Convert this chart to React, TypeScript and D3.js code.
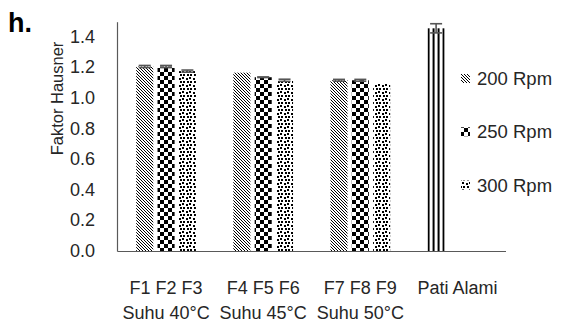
import React from "react";
import * as d3 from "d3";

// Category labels (two lines) and series names
const categoryTop = ["F1 F2 F3", "F4 F5 F6", "F7 F8 F9", "Pati Alami"];
const categoryBottom = ["Suhu 40°C", "Suhu 45°C", "Suhu 50°C", ""];
const seriesNames = ["200 Rpm", "250 Rpm", "300 Rpm"];

// Hausner ratio per category for each stirring speed (null = no bar)
const rpm200 = [1.21, 1.17, 1.12, 1.46];
const rpm250 = [1.21, 1.14, 1.12, null];
const rpm300 = [1.18, 1.12, 1.1, null];

// Standard deviations
const err200 = [0.007, 0.0, 0.006, 0.03];
const err250 = [0.007, 0.002, 0.006, null];
const err300 = [0.007, 0.007, 0.0, null];

const yTicks = [0, 0.2, 0.4, 0.6, 0.8, 1.0, 1.2, 1.4];

const W = 570;
const H = 322;
const FONT = "'Liberation Sans', Arial, sans-serif";

export default function App() {
  const y = d3.scaleLinear().domain([0, 1.5]).range([251.5, 22.2]);
  const x0 = d3
    .scaleBand<string>()
    .domain(categoryTop)
    .range([117.5, 506])
    .paddingInner(0.385)
    .paddingOuter(0.1925);
  const x1 = d3
    .scaleBand<string>()
    .domain(seriesNames)
    .range([0, x0.bandwidth()])
    .paddingInner(0.2);

  const values = [rpm200, rpm250, rpm300];
  const errors = [err200, err250, err300];
  const fills = ["url(#diag)", "url(#checker)", "url(#confetti)"];

  const bars: any[] = [];
  categoryTop.forEach((cat, ci) => {
    seriesNames.forEach((s, si) => {
      const v = values[si][ci];
      if (v == null) return;
      const isNative = cat === "Pati Alami";
      bars.push({
        key: `${ci}-${si}`,
        x: (x0(cat) as number) + (x1(s) as number),
        w: x1.bandwidth(),
        v,
        e: errors[si][ci] ?? 0,
        fill: isNative ? "url(#vstripe)" : fills[si],
      });
    });
  });

  const baseY = y(0);
  const axisColor = "#595959";
  const textColor = "#262626";

  return (
    <svg
      width={W}
      height={H}
      style={{ position: "absolute", left: 0, top: 0, background: "#fff" }}
      fontFamily={FONT}
    >
      <defs>
        {/* downward diagonal hatch */}
        <pattern id="diag" patternUnits="userSpaceOnUse" width={3} height={3} shapeRendering="crispEdges">
          <rect width={3} height={3} fill="#fff" />
          <rect x={0} y={0} width={1} height={1} fill="#000" />
          <rect x={1} y={1} width={1} height={1} fill="#000" />
          <rect x={2} y={2} width={1} height={1} fill="#000" />
        </pattern>
        {/* large checkerboard */}
        <pattern id="checker" patternUnits="userSpaceOnUse" width={8} height={8} shapeRendering="crispEdges">
          <rect width={8} height={8} fill="#fff" />
          <rect x={0} y={0} width={4} height={4} fill="#000" />
          <rect x={4} y={4} width={4} height={4} fill="#000" />
        </pattern>
        {/* confetti dots */}
        <pattern id="confetti" patternUnits="userSpaceOnUse" width={7} height={7} shapeRendering="crispEdges">
          <rect width={7} height={7} fill="#fff" />
          <rect x={0} y={0} width={2} height={2} fill="#000" />
          <rect x={4} y={1} width={2} height={2} fill="#000" />
          <rect x={1} y={4} width={2} height={2} fill="#000" />
          <rect x={5} y={4} width={2} height={2} fill="#000" />
        </pattern>
        {bars
          .filter((b) => b.fill === "url(#vstripe)")
          .map((b) => (
            <pattern
              key="vs"
              id="vstripe"
              patternUnits="userSpaceOnUse"
              x={b.x}
              y={0}
              width={5}
              height={5}
            >
              <rect width={5} height={5} fill="#fff" />
              <rect x={0} y={0} width={2} height={5} fill="#000" />
            </pattern>
          ))}
      </defs>

      {/* panel letter */}
      <text x={8} y={32} fontSize={27} fontWeight="bold" fill="#000">
        h.
      </text>

      {/* y tick labels */}
      {yTicks.map((t) => (
        <text
          key={t}
          x={95}
          y={y(t)}
          dy="0.3em"
          textAnchor="end"
          fontSize={18}
          fill={textColor}
        >
          {d3.format(".1f")(t)}
        </text>
      ))}

      {/* y axis title */}
      <text
        transform={`translate(57.5,98.5) rotate(-90)`}
        textAnchor="middle"
        dy="0.35em"
        fontSize={16.5}
        fill={textColor}
      >
        Faktor Hausner
      </text>

      {/* bars */}
      {bars.map((b) => (
        <rect
          key={b.key}
          x={b.x}
          y={y(b.v)}
          width={b.w}
          height={baseY - y(b.v)}
          fill={b.fill}
        />
      ))}

      {/* error bars */}
      {bars
        .filter((b) => b.e > 0)
        .map((b) => {
          const cx = b.x + b.w / 2;
          const top = y(b.v + b.e);
          const bot = y(b.v - b.e);
          return (
            <g key={"e" + b.key} stroke="#555" strokeWidth={1.6}>
              <line x1={cx} x2={cx} y1={top} y2={bot} />
              <line x1={cx - 6} x2={cx + 6} y1={top} y2={top} />
              <line x1={cx - 6} x2={cx + 6} y1={bot} y2={bot} />
            </g>
          );
        })}

      {/* axes */}
      <line x1={117.5} x2={117.5} y1={y(1.5)} y2={baseY} stroke={axisColor} strokeWidth={1.2} />
      <line x1={117.5} x2={506} y1={baseY} y2={baseY} stroke={axisColor} strokeWidth={1.2} />

      {/* category labels */}
      {categoryTop.map((c, i) => {
        const cx = (x0(c) as number) + x0.bandwidth() / 2;
        return (
          <g key={c}>
            <text x={cx} y={293.5} textAnchor="middle" fontSize={18} fill={textColor}>
              {c}
            </text>
            {categoryBottom[i] && (
              <text x={cx} y={318.5} textAnchor="middle" fontSize={18} fill={textColor}>
                {categoryBottom[i]}
              </text>
            )}
          </g>
        );
      })}

      {/* legend */}
      {seriesNames.map((s, i) => {
        const cy = 78.5 + i * 53.3;
        return (
          <g key={s}>
            <rect x={461} y={cy - 4.5} width={9} height={9} fill={fills[i]} />
            <text x={477} y={cy} dy="0.35em" fontSize={18.5} fill={textColor}>
              {s}
            </text>
          </g>
        );
      })}
    </svg>
  );
}
